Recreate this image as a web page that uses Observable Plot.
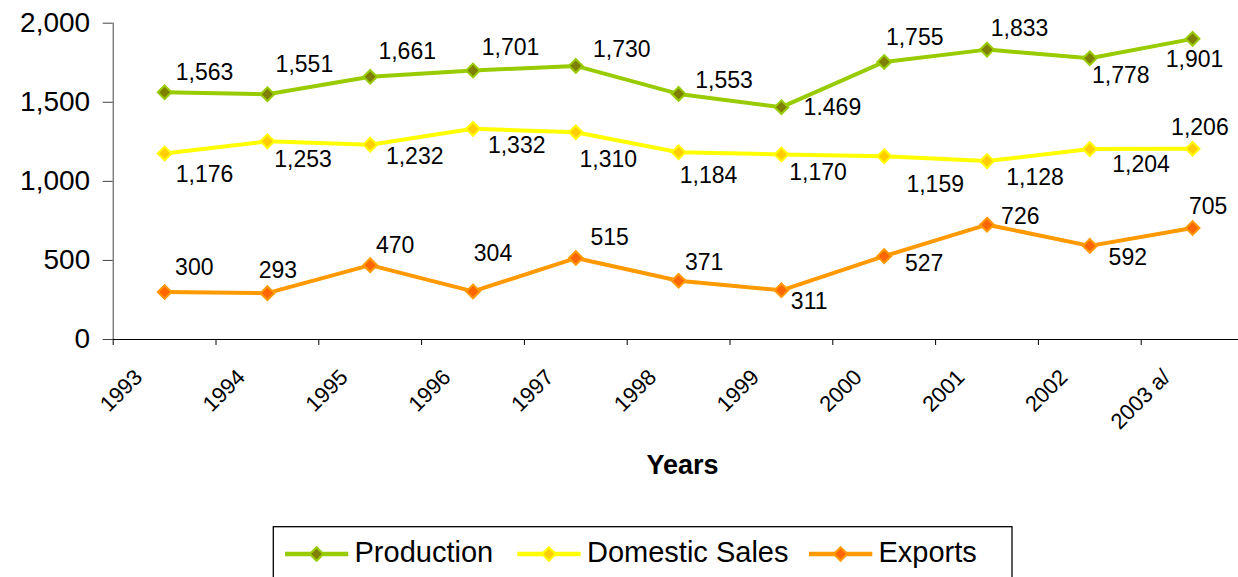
<!DOCTYPE html>
<html><head><meta charset="utf-8">
<script src="https://cdn.jsdelivr.net/npm/d3@7"></script>
<script src="https://cdn.jsdelivr.net/npm/@observablehq/plot@0.6"></script>
<style>
html,body{margin:0;padding:0;background:#fff;overflow:hidden;}
#wrap{position:relative;width:1238px;height:577px;font-family:Arial,"Liberation Sans",sans-serif;}
#legend{position:absolute;left:0;top:515px;}
</style></head><body><div id="wrap"></div>
<script>
// ---- data ----
const categories = ["1993","1994","1995","1996","1997","1998","1999","2000","2001","2002","2003 a/"];
const production = [1563,1551,1661,1701,1730,1553,1469,1755,1833,1778,1901];
const domesticSales = [1176,1253,1232,1332,1310,1184,1170,1159,1128,1204,1206];
const exportsValues = [300,293,470,304,515,371,311,527,726,592,705];
const seriesNames = ["Production","Domestic Sales","Exports"];
const yTicks = [0,500,1000,1500,2000];
const xTitle = "Years";
const labelOverrides = {"Production|1999": "1.469"};

// ---- styling / label placement (pixel offsets) ----
const prodOffsets = [[40,-20],[37,-30],[37,-25],[37.5,-23],[46,-16],[45.5,-13],[51,0],[30.5,-24],[32.6,-21],[31,17],[2,21]];
const domOffsets  = [[40,21],[35.6,18.5],[44.5,12],[43.7,16.5],[32.5,27.5],[30,23],[36.6,18.5],[51,28],[48,16.5],[51.3,16],[7.3,-21.5]];
const expOffsets  = [[29.7,-24.5],[10.5,-22.5],[25,-19.5],[20,-37.5],[33.8,-20],[25.5,-18.5],[27.8,11],[40,7],[33.3,-8],[38,11.5],[15.6,-21.5]];
const styles = [
  {line:"#99cc00", fill:"#808000", stroke:"#99cc00"},
  {line:"#ffff00", fill:"#ffcc00", stroke:"#ffff00"},
  {line:"#ff9900", fill:"#ff6600", stroke:"#ff9900"}
];
const seriesValues = [production, domesticSales, exportsValues];
const offsets = [prodOffsets, domOffsets, expOffsets];

const xRange = [112.7, 1243.5];
const bw = (xRange[1]-xRange[0])/categories.length;
const fmt = d3.format(",");

const marks = [
  Plot.frame({anchor:"left", stroke:"#444"}),
  Plot.frame({anchor:"bottom", stroke:"#000"}),
  Plot.axisY({ticks:yTicks, tickFormat:fmt, tickSize:10, tickPadding:13, fontSize:28, label:null, stroke:"#444"}),
  Plot.axisX({tickSize:6, tickFormat:() => "", dx:-bw/2, label:null}),
  Plot.text(categories, {x:d=>d, frameAnchor:"bottom", rotate:-45, textAnchor:"end", dx:-21, dy:39, fontSize:22, fill:"#000"}),
  Plot.text([xTitle], {frameAnchor:"bottom", dx:6.7, dy:134, fontSize:27, fontWeight:"bold", fill:"#000"})
];

seriesValues.forEach((vals, si) => {
  const rows = categories.map((c,i) => ({year:c, value:vals[i], series:seriesNames[si]}));
  const st = styles[si];
  marks.push(Plot.line(rows, {x:"year", y:"value", stroke:st.line, strokeWidth:4}));
  marks.push(Plot.dot(rows, {x:"year", y:"value", symbol:"diamond2", r:6.2, fill:st.fill, stroke:st.stroke, strokeWidth:2}));
  rows.forEach((r,i) => {
    const key = r.series + "|" + r.year;
    const txt = labelOverrides[key] ?? fmt(r.value);
    marks.push(Plot.text([r], {x:"year", y:"value", text:() => txt, dx:offsets[si][i][0], dy:offsets[si][i][1], fontSize:23, textAnchor:"middle", fill:"#000"}));
  });
});

const chart = Plot.plot({
  width:1238, height:500,
  marginLeft:112.7, marginRight:0, marginTop:22.7, marginBottom:161,
  x:{type:"band", domain:categories, range:xRange, padding:0, round:false},
  y:{domain:[0,2000]},
  style:{fontFamily:'Arial, "Liberation Sans", sans-serif', background:"white", overflow:"visible", color:"#000"},
  marks
});
const wrap = document.getElementById("wrap");
wrap.appendChild(chart);

// ---- legend ----
const legendItems = [
  {name:seriesNames[0], x0:285, tx:354.5},
  {name:seriesNames[1], x0:517.3, tx:587},
  {name:seriesNames[2], x0:809, tx:878.5}
];
const lg = d3.create("svg").attr("id","legend").attr("width",1238).attr("height",62);
lg.append("rect").attr("x",273.3).attr("y",11.7).attr("width",1012-273.3).attr("height",80)
  .attr("fill","white").attr("stroke","#000").attr("stroke-width",1.3);
legendItems.forEach((it, i) => {
  const st = styles[i];
  const cy = 39;
  lg.append("line").attr("x1",it.x0).attr("x2",it.x0+63.3).attr("y1",cy).attr("y2",cy)
    .attr("stroke",st.line).attr("stroke-width",4.5);
  const cx = it.x0 + 31.6, h = 6.8;
  lg.append("path").attr("d",`M${cx},${cy-h}L${cx+h},${cy}L${cx},${cy+h}L${cx-h},${cy}Z`)
    .attr("fill",st.fill).attr("stroke",st.stroke).attr("stroke-width",2);
  lg.append("text").attr("x",it.tx).attr("y",46.7).attr("font-size",29)
    .attr("font-family",'Arial, "Liberation Sans", sans-serif').attr("fill","#000").text(it.name);
});
wrap.appendChild(lg.node());
</script>
</body></html>
